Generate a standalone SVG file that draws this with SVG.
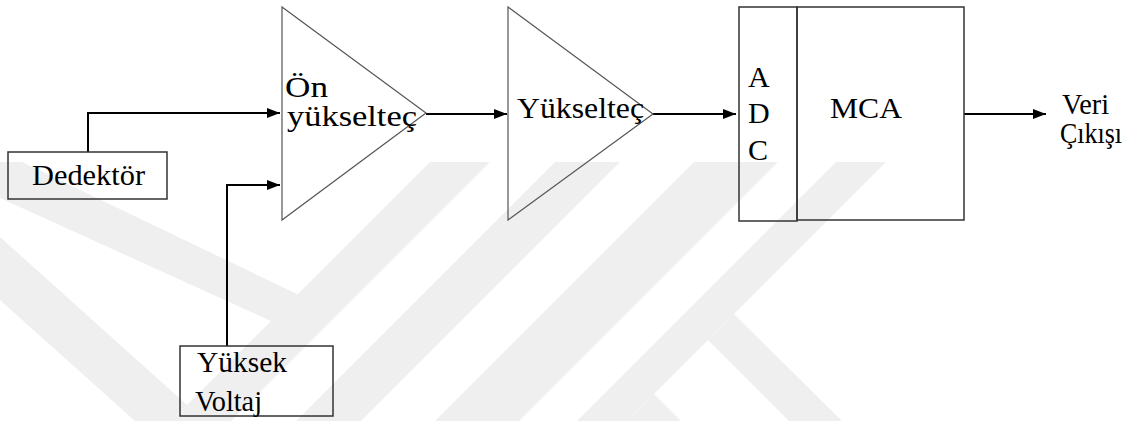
<svg xmlns="http://www.w3.org/2000/svg" width="1146" height="421" viewBox="0 0 1146 421">
  <style>
    text { font-family: "Liberation Serif", "Times New Roman", "DejaVu Serif", serif; font-size: 30px; fill: #000; }
    .box { fill: none; stroke: #333; stroke-width: 1.5; }
    .amp { fill: none; stroke: #555; stroke-width: 1.2; stroke-linejoin: miter; }
    .wire { fill: none; stroke: #000; stroke-width: 2; }
  </style>
  <defs>
    <marker id="arrow" markerUnits="userSpaceOnUse" markerWidth="14" markerHeight="12" refX="13" refY="6" orient="auto">
      <path d="M0,1 L13,6 L0,11 Z" fill="#000"/>
    </marker>
  </defs>

  <rect x="0" y="0" width="1146" height="421" fill="#fff"/>

  <!-- background stripe emblem -->
  <g id="watermark" fill="#efefef">
    <polygon points="430,162 490,162 231,421 171,421"/>
    <polygon points="0,162 22,162 299,295 273,322 0,198"/>
    <polygon points="0,237 187,405 171,421 135,421 0,300"/>
    <polygon points="555,162 620,162 361,421 296,421"/>
    <polygon points="694,162 778,162 519,421 435,421"/>
    <polygon points="836,162 886,162 627,421 577,421"/>
    <polygon points="734,314 708,340 789,421 842,421"/>
    <polygon points="654,394 627,421 681,421"/>
  </g>

  <g id="connectors">
    <polyline class="wire" points="88,152 88,113 280,113" marker-end="url(#arrow)"/>
    <polyline class="wire" points="227,346 227,185 280,185" marker-end="url(#arrow)"/>
    <line class="wire" x1="426" y1="114" x2="507" y2="114" marker-end="url(#arrow)"/>
    <line class="wire" x1="653" y1="114" x2="736" y2="114" marker-end="url(#arrow)"/>
    <line class="wire" x1="964" y1="114" x2="1046" y2="114" marker-end="url(#arrow)"/>
  </g>

  <g id="dedektor" font-family="Liberation Serif, serif">
    <rect class="box" x="8" y="152" width="159" height="47"/>
    <text x="32" y="185" textLength="113" lengthAdjust="spacingAndGlyphs">Dedektör</text>
  </g>

  <g id="yuksek-voltaj" font-family="Liberation Serif, serif">
    <rect class="box" x="180" y="346" width="153" height="70"/>
    <text x="197" y="372" textLength="90" lengthAdjust="spacingAndGlyphs">Yüksek</text>
    <text x="195" y="411" textLength="67" lengthAdjust="spacingAndGlyphs">Voltaj</text>
  </g>

  <g id="on-yukseltec" font-family="Liberation Serif, serif">
    <polygon class="amp" points="282,7 426,113 282,220"/>
    <text x="285" y="97" textLength="43" lengthAdjust="spacingAndGlyphs">Ön</text>
    <text x="287" y="126" textLength="130" lengthAdjust="spacingAndGlyphs">yükselteç</text>
  </g>

  <g id="yukseltec" font-family="Liberation Serif, serif">
    <polygon class="amp" points="508,7 653,114 508,220"/>
    <text x="517" y="118" textLength="127" lengthAdjust="spacingAndGlyphs">Yükselteç</text>
  </g>

  <g id="adc" font-family="Liberation Serif, serif">
    <rect class="box" x="739" y="7" width="58" height="214"/>
    <text x="748" y="87">A</text>
    <text x="748" y="123">D</text>
    <text x="748" y="160">C</text>
  </g>

  <g id="mca" font-family="Liberation Serif, serif">
    <rect class="box" x="797" y="7" width="167" height="213"/>
    <text x="830" y="118" textLength="72" lengthAdjust="spacingAndGlyphs">MCA</text>
  </g>

  <g id="veri-cikisi" font-family="Liberation Serif, serif">
    <text x="1062" y="114" textLength="47" lengthAdjust="spacingAndGlyphs">Veri</text>
    <text x="1060" y="143" textLength="62" lengthAdjust="spacingAndGlyphs">Çıkışı</text>
  </g>
</svg>
